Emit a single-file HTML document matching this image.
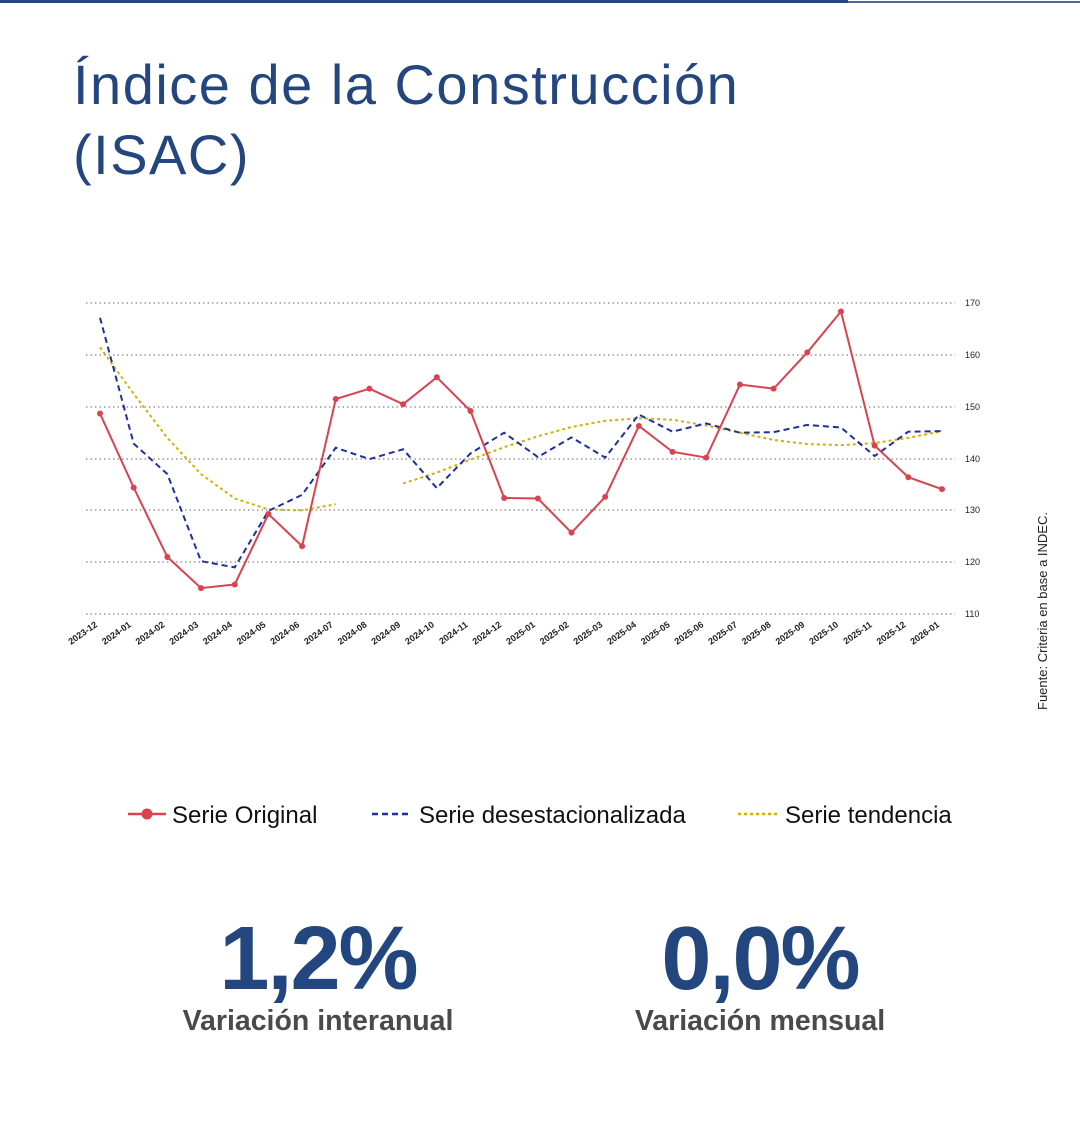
<!DOCTYPE html><html><head><meta charset="utf-8"><style>
body{margin:0;width:1080px;height:1126px;background:#fff;position:relative;font-family:"Liberation Sans",sans-serif;overflow:hidden}
.t{position:absolute;left:73px;top:50px;font-size:56px;letter-spacing:1.5px;line-height:70px;color:#23467f;font-weight:400}
.big{position:absolute;font-weight:bold;color:#23467f;font-size:90px;letter-spacing:-2px;text-align:center;width:400px}
.lab{position:absolute;font-weight:bold;color:#4a4a4a;font-size:28.5px;text-align:center;width:400px}
</style></head><body>
<div style="position:absolute;left:0;top:0;width:848px;height:3px;background:#23467f"></div>
<div style="position:absolute;left:848px;top:1px;width:232px;height:2px;background:#4a6a9a"></div>
<div class="t">Índice de la Construcción<br>(ISAC)</div>
<svg width="1080" height="1126" style="position:absolute;left:0;top:0" font-family="Liberation Sans, sans-serif">
<g stroke="#666" stroke-dasharray="1.5 3" stroke-width="1">
<line x1="86" x2="955" y1="303" y2="303"/><line x1="86" x2="955" y1="355" y2="355"/><line x1="86" x2="955" y1="407" y2="407"/><line x1="86" x2="955" y1="459" y2="459"/><line x1="86" x2="955" y1="510" y2="510"/><line x1="86" x2="955" y1="562" y2="562"/><line x1="86" x2="955" y1="614" y2="614"/></g>
<g font-size="9" fill="#222"><text x="965" y="306">170</text><text x="965" y="358">160</text><text x="965" y="410">150</text><text x="965" y="462">140</text><text x="965" y="513">130</text><text x="965" y="565">120</text><text x="965" y="617">110</text></g>
<g id="xl" font-size="9" font-weight="bold" fill="#222" text-anchor="end"></g>
<polyline id="tr1" fill="none" stroke="#d4b000" stroke-width="2" stroke-dasharray="3 3"/>
<polyline id="tr2" fill="none" stroke="#d4b000" stroke-width="2" stroke-dasharray="3 3"/>
<polyline id="ds" fill="none" stroke="#1f2fa0" stroke-width="2" stroke-dasharray="6 4"/>
<polyline id="or" fill="none" stroke="#d9434f" stroke-width="2"/>
<g id="dots" fill="#d9434f"></g>
<line x1="128" x2="166" y1="814" y2="814" stroke="#d9434f" stroke-width="2.5"/><circle cx="147" cy="814" r="5.5" fill="#d9434f"/>
<text x="172" y="823" font-size="24" fill="#111">Serie Original</text>
<line x1="372" x2="412" y1="814" y2="814" stroke="#1f2fa0" stroke-width="2.5" stroke-dasharray="6 4"/>
<text x="419" y="823" font-size="24" fill="#111">Serie desestacionalizada</text>
<line x1="738" x2="778" y1="814" y2="814" stroke="#d4b000" stroke-width="2.5" stroke-dasharray="3 3"/>
<text x="785" y="823" font-size="24" fill="#111">Serie tendencia</text>
<text transform="translate(1047,710) rotate(-90)" font-size="13" fill="#222">Fuente: Criteria en base a INDEC.</text>
</svg>
<div class="big" style="left:118px;top:908px">1,2%</div>
<div class="lab" style="left:118px;top:1005px">Variación interanual</div>
<div class="big" style="left:560px;top:908px">0,0%</div>
<div class="lab" style="left:560px;top:1005px">Variación mensual</div>
<script>
const X=i=>100+33.68*i,Y=v=>614-(v-110)*5.18;
const o=[148.7,134.4,121,115,115.7,129.3,123.1,151.5,153.5,150.5,155.7,149.2,132.4,132.3,125.7,132.6,146.3,141.3,140.2,154.3,153.5,160.5,168.4,142.5,136.4,134.1];
const d=[167.2,142.9,137,120.2,119,129.9,133,142.1,139.9,141.8,134.3,141,145,140.3,144.1,140.2,148.5,145.2,146.8,145,145.1,146.5,146,140.5,145.2,145.3];
const t1=[161.5,152.5,144,137,132.3,130.2,130,131.2];
const t2=[135.2,137.3,139.8,142.2,144.3,146.1,147.3,147.8,147.5,146.4,145,143.6,142.8,142.6,143,144,145.3];
const pts=(a,s)=>a.map((v,i)=>X(i+s)+','+Y(v)).join(' ');
document.getElementById('or').setAttribute('points',pts(o,0));
document.getElementById('ds').setAttribute('points',pts(d,0));
document.getElementById('tr1').setAttribute('points',pts(t1,0));
document.getElementById('tr2').setAttribute('points',pts(t2,9));
let h='';o.forEach((v,i)=>h+=`<circle cx="${X(i)}" cy="${Y(v)}" r="3"/>`);document.getElementById('dots').innerHTML=h;
let l='';for(let i=0;i<26;i++){let m=(i+11)%12+1,y=2023+Math.floor((i+11)/12);l+=`<text transform="translate(${X(i)-2},${626}) rotate(-35)">${y}-${String(m).padStart(2,'0')}</text>`;}
document.getElementById('xl').innerHTML=l;
</script>
</body></html>
